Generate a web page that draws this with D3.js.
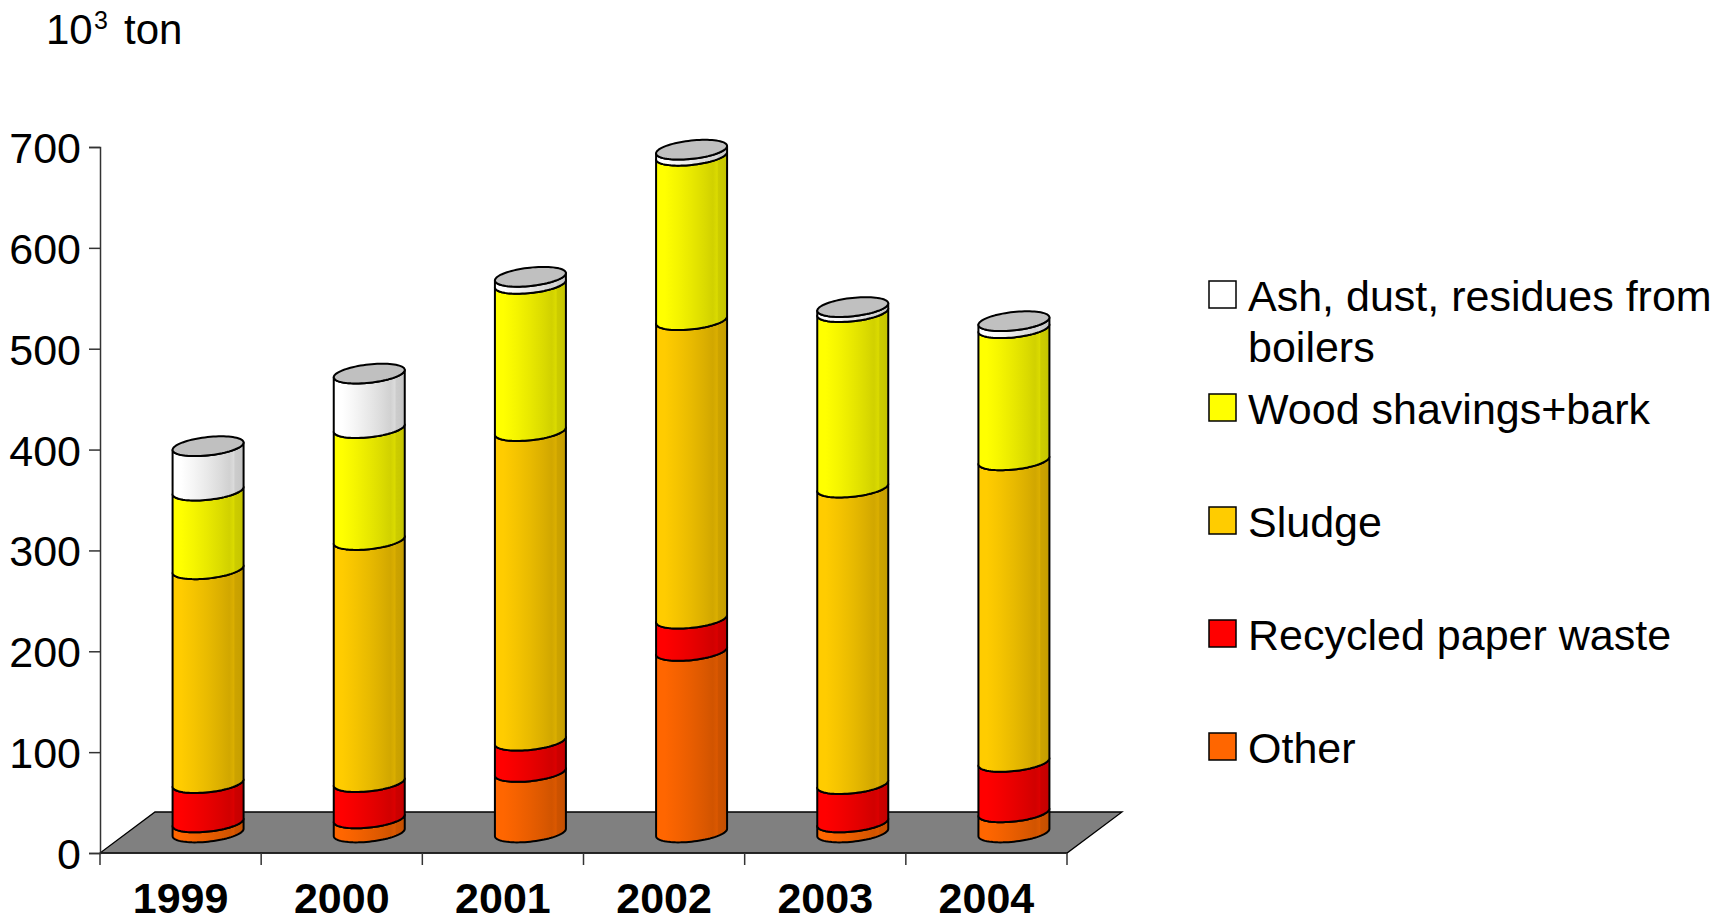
<!DOCTYPE html>
<html>
<head>
<meta charset="utf-8">
<script src="https://cdn.jsdelivr.net/npm/d3@7/dist/d3.min.js"></script>
<style>
  html, body { margin: 0; padding: 0; background: #fff; }
  svg { display: block; }
  text { font-family: "Liberation Sans", Arial, Helvetica, sans-serif; fill: #000; }
</style>
</head>
<body>
<script>
// Waste from the pulp and paper industry, 10^3 ton per year
const years = ["1999", "2000", "2001", "2002", "2003", "2004"];
const other     = [10, 14, 60, 180, 10, 20];
const recycled  = [39, 36, 31, 32, 38, 50];
const sludge    = [212, 240, 307, 296, 294, 299];
const wood      = [78, 111, 146, 163, 174, 131];
const ash       = [44, 54, 7, 6, 5, 7];

const seriesKeys   = ["other", "recycled", "sludge", "wood", "ash"];
const seriesLabels = ["Other", "Recycled paper waste", "Sludge", "Wood shavings+bark", "Ash, dust, residues from boilers"];
const seriesColors = ["#FF6600", "#FF0000", "#FFCC00", "#FFFF00", "#FFFFFF"];
const yTicks = [0, 100, 200, 300, 400, 500, 600, 700];

const W = 1718, H = 922;
const svg = d3.select("body").append("svg").attr("width", W).attr("height", H);

// plot geometry
const x0 = 100, x1 = 1067, yBase = 853, yTop = 147;
const DEPTH_X = 55, DEPTH_Y = -41;          // floor depth offset (oblique projection)
const midX = DEPTH_X / 2, midY = DEPTH_Y / 2; // cylinders stand at mid-depth

const x = d3.scaleBand().domain(years).range([x0, x1]).paddingInner(0).paddingOuter(0);
const y = d3.scaleLinear().domain([0, 700]).range([yBase, yTop]);

// table of rows for the stack layout
const rows = years.map((yr, i) => ({
  year: yr, other: other[i], recycled: recycled[i], sludge: sludge[i], wood: wood[i], ash: ash[i]
}));
const stacked = d3.stack().keys(seriesKeys)(rows);

// shaded gradients for cylinder sides
const defs = svg.append("defs");
seriesColors.forEach((c, i) => {
  const base = d3.rgb(c);
  const g = defs.append("linearGradient").attr("id", "grad-" + seriesKeys[i])
    .attr("x1", "0%").attr("x2", "100%").attr("y1", "0%").attr("y2", "0%");
  const stops = [
    [0.00, 1.00], [0.12, 1.00], [0.30, 0.96], [0.50, 0.91], [0.68, 0.86],
    [0.80, 0.82], [0.86, 0.86], [0.88, 0.80], [0.94, 0.79], [1.00, 0.76]
  ];
  stops.forEach(([o, k]) => {
    g.append("stop").attr("offset", o)
      .attr("stop-color", d3.rgb(base.r * k, base.g * k, base.b * k).formatHex());
  });
});

// floor
const floor = [
  [x0, yBase], [x1, yBase], [x1 + DEPTH_X, yBase + DEPTH_Y], [x0 + DEPTH_X, yBase + DEPTH_Y]
];
svg.append("path")
  .attr("d", d3.line()(floor) + "Z")
  .attr("fill", "#808080").attr("stroke", "#000").attr("stroke-width", 1.3);

// y axis
const yAxis = d3.axisLeft(y).tickValues(yTicks).tickSize(11).tickPadding(8);
const gy = svg.append("g").attr("transform", `translate(${x0},0)`).call(yAxis);
gy.select(".domain").attr("stroke", "#333").attr("stroke-width", 1.5);
gy.selectAll(".tick line").attr("stroke", "#333").attr("stroke-width", 1.5);
gy.selectAll(".tick text")
  .attr("font-size", 43).attr("fill", "#000")
  .attr("font-family", "'Liberation Sans', Arial, sans-serif")
  .attr("dy", "0.36em");

// x axis (category boundaries as ticks)
const gx = svg.append("g").attr("transform", `translate(0,${yBase})`);
gx.append("line").attr("x1", x0).attr("x2", x1).attr("y1", 0).attr("y2", 0)
  .attr("stroke", "#222").attr("stroke-width", 1.5);
const boundaries = years.map(d => x(d)).concat([x1]);
gx.selectAll("line.tk").data(boundaries).join("line").attr("class", "tk")
  .attr("x1", d => d).attr("x2", d => d).attr("y1", 0).attr("y2", 12)
  .attr("stroke", "#333").attr("stroke-width", 1.5);
gx.selectAll("text").data(years).join("text")
  .attr("x", d => x(d) + x.bandwidth() / 2)
  .attr("y", 60)
  .attr("text-anchor", "middle")
  .attr("font-size", 43).attr("font-weight", "bold")
  .text(d => d);

// cylinder cross-section: circle seen in oblique projection
const HALF_W = 35.5;
const KX = 0.40, KY = 0.30;
const R = HALF_W / Math.sqrt(1 + KX * KX);
const ALPHA = Math.atan(KX);
function pt(cx, cy, t) {
  return [cx + R * Math.cos(t) + KX * R * Math.sin(t), cy - KY * R * Math.sin(t)];
}
// front half of the ellipse, left tangent -> right tangent
function frontArc(cx, cy) {
  const pts = [];
  const n = 40;
  for (let i = 0; i <= n; i++) {
    const t = Math.PI + ALPHA + (Math.PI * i) / n;
    pts.push(pt(cx, cy, t));
  }
  return pts;
}
function fullEllipse(cx, cy) {
  const pts = [];
  const n = 80;
  for (let i = 0; i < n; i++) pts.push(pt(cx, cy, (2 * Math.PI * i) / n));
  return pts;
}

const bars = svg.append("g");
stacked.forEach((layer, si) => {
  layer.forEach((d, i) => {
    const cx = x(years[i]) + x.bandwidth() / 2 + midX;
    const yb = y(d[0]) + midY;
    const yt = y(d[1]) + midY;
    const bottom = frontArc(cx, yb);
    const top = frontArc(cx, yt).reverse();
    const poly = bottom.concat(top);
    bars.append("path")
      .attr("d", d3.line()(poly) + "Z")
      .attr("fill", `url(#grad-${seriesKeys[si]})`)
      .attr("stroke", "#000").attr("stroke-width", 2).attr("stroke-linejoin", "round");
  });
});
// grey caps on top of each column
const topLayer = stacked[stacked.length - 1];
topLayer.forEach((d, i) => {
  const cx = x(years[i]) + x.bandwidth() / 2 + midX;
  const yt = y(d[1]) + midY;
  bars.append("path")
    .attr("d", d3.line()(fullEllipse(cx, yt)) + "Z")
    .attr("fill", "#C0C0C0")
    .attr("stroke", "#000").attr("stroke-width", 2).attr("stroke-linejoin", "round");
});

// unit label
const unit = svg.append("text").attr("y", 44).attr("font-size", 42);
unit.append("tspan").attr("x", 46).text("10");
unit.append("tspan").attr("x", 94).attr("font-size", 25).attr("dy", -15).text("3");
unit.append("tspan").attr("x", 124).attr("dy", 15).text("ton");

// legend, top entry = top of stack
const legendOrder = [4, 3, 2, 1, 0];
const legend = svg.append("g");
const lx = 1209, textX = 1248, firstBase = 311, step = 113;
legendOrder.forEach((si, k) => {
  const base = firstBase + k * step;
  legend.append("rect")
    .attr("x", lx).attr("y", base - 30).attr("width", 27).attr("height", 27)
    .attr("fill", seriesColors[si]).attr("stroke", "#000").attr("stroke-width", 1.5);
  const t = legend.append("text").attr("x", textX).attr("y", base).attr("font-size", 43);
  if (si === 4) {
    t.append("tspan").attr("x", textX).text("Ash, dust, residues from");
    t.append("tspan").attr("x", textX).attr("dy", 51).text("boilers");
  } else {
    t.text(seriesLabels[si]);
  }
});
</script>
</body>
</html>
